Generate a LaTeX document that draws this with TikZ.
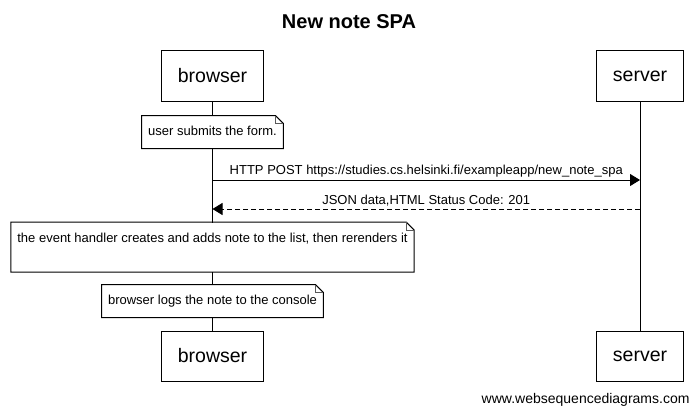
\documentclass[tikz,border=0pt]{standalone}
\usepackage{fontspec}
\setmainfont{Liberation Sans}
\usetikzlibrary{arrows.meta,calc}
\definecolor{LineClr}{RGB}{0,0,0}
\definecolor{FoldClr}{RGB}{90,90,90}

% outline of a note with its folded corner
\newcommand{\DrawNote}[1]{%
  \draw[LineClr] (#1.north west) -- ([xshift=-8pt]#1.north east) -- ([yshift=-8pt]#1.north east)
    -- (#1.south east) -- (#1.south west) -- cycle;
  \draw[FoldClr] ([xshift=-8pt]#1.north east) |- ([yshift=-8pt]#1.north east);
}

\begin{document}
\begin{tikzpicture}[x=1pt,y=-1pt,line width=1pt,
  actor/.style={draw=LineClr,fill=white,font=\fontsize{19.5}{22}\selectfont,inner xsep=16pt,minimum height=51pt},
  note/.style={fill=white,font=\fontsize{13}{15}\selectfont,inner xsep=6pt,inner ysep=0pt,text height=9.5pt,text depth=3pt,minimum height=32pt},
  msg/.style={draw=LineClr,-{Triangle[length=10pt,width=12pt]}},
  msglabel/.style={font=\fontsize{13}{15}\selectfont,inner sep=2pt}]
\useasboundingbox (0,0) rectangle (698,415);

\node[font=\bfseries\fontsize{20}{24}\selectfont] (Title) at (349,22) {New note SPA};

\node[actor] (browserTop) at (212.5,76) {browser};
\node[actor] (serverTop) at (640,76) {server};
\node[actor,minimum height=50pt] (browserBot) at (212.5,356) {browser};
\node[actor,minimum height=50pt] (serverBot) at (640,356) {server};

% lifelines
\draw[LineClr] (browserTop) -- (browserBot);
\draw[LineClr] (serverTop) -- (serverBot);

\node[note] (NoteSubmit) at (212.5,132) {user submits the form.};
\DrawNote{NoteSubmit}

\coordinate (PostB) at (browserTop |- 0,180);
\coordinate (PostS) at (serverTop |- 0,180);
\draw[msg] (PostB) -- (PostS) node[midway,above,msglabel] {HTTP POST https://studies.cs.helsinki.fi/exampleapp/new\_note\_spa};

\coordinate (JsonS) at (serverTop |- 0,209);
\coordinate (JsonB) at (browserTop |- 0,209);
\draw[msg,dash pattern=on 5pt off 3pt] (JsonS) -- (JsonB) node[midway,above,msglabel] {JSON data,HTML Status Code: 201};

\node[note,anchor=north,inner ysep=8pt,text height=12pt,text depth=21pt] (NoteRender) at (212.5,222)
  {the event handler creates and adds note to the list, then rerenders it};
\DrawNote{NoteRender}

\node[note] (NoteLog) at (212.5,301) {browser logs the note to the console};
\DrawNote{NoteLog}

\node[anchor=east,font=\fontsize{14}{16}\selectfont,inner sep=0pt] (Footer) at (690,400) {www.websequencediagrams.com};
\end{tikzpicture}
\end{document}
